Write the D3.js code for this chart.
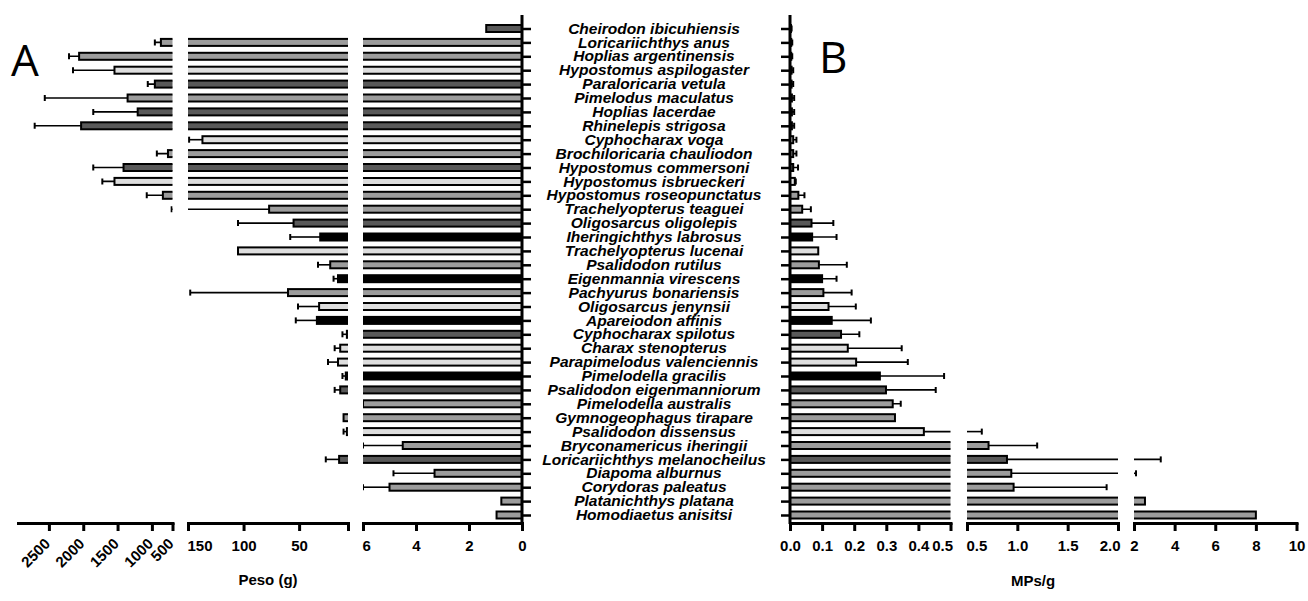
<!DOCTYPE html>
<html lang="en">
<head>
<meta charset="UTF-8">
<title>Peso y MPs/g por especie</title>
<style>
  body { margin: 0; background: #fff; }
  text { font-family: "Liberation Sans", Arial, sans-serif; }
</style>
</head>
<body>
<script src="https://cdn.jsdelivr.net/npm/d3@7/dist/d3.min.js"></script>
<script>
var width = 1308, height = 601;

// especies, de arriba hacia abajo
var species = ["Cheirodon ibicuhiensis", "Loricariichthys anus", "Hoplias argentinensis",
  "Hypostomus aspilogaster", "Paraloricaria vetula", "Pimelodus maculatus", "Hoplias lacerdae",
  "Rhinelepis strigosa", "Cyphocharax voga", "Brochiloricaria chauliodon", "Hypostomus commersoni",
  "Hypostomus isbrueckeri", "Hypostomus roseopunctatus", "Trachelyopterus teaguei",
  "Oligosarcus oligolepis", "Iheringichthys labrosus", "Trachelyopterus lucenai",
  "Psalidodon rutilus", "Eigenmannia virescens", "Pachyurus bonariensis", "Oligosarcus jenynsii",
  "Apareiodon affinis", "Cyphocharax spilotus", "Charax stenopterus", "Parapimelodus valenciennis",
  "Pimelodella gracilis", "Psalidodon eigenmanniorum", "Pimelodella australis",
  "Gymnogeophagus tirapare", "Psalidodon dissensus", "Bryconamericus iheringii",
  "Loricariichthys melanocheilus", "Diapoma alburnus", "Corydoras paleatus",
  "Platanichthys platana", "Homodiaetus anisitsi"];

// A: peso (g), media y desvio
var peso = [1.35, 869, 2060, 1545, 957, 1354, 1207, 2031, 137, 766, 1413, 1545, 840, 77, 55, 31,
  105, 22, 15, 60, 32, 34, 7, 13, 15, 8, 13, 6.0, 10, 7, 4.5, 14, 3.3, 5.0, 0.78, 0.96];
var pesoSD = [0, 88, 147, 604, 103, 1206, 647, 676, 12, 162, 441, 177, 235, 635, 50, 27,
  0, 11, 4, 88, 19, 19, 4, 5, 9, 3, 5, 0, 0, 3, 1.5, 12, 1.55, 1.0, 0, 0];

// B: MPs/g, media y desvio
var mps = [0.003, 0.004, 0.004, 0.005, 0.005, 0.006, 0.006, 0.006, 0.01, 0.01, 0.01, 0.015,
  0.026, 0.038, 0.067, 0.069, 0.088, 0.09, 0.1, 0.104, 0.12, 0.13, 0.159, 0.18, 0.206, 0.28,
  0.299, 0.32, 0.327, 0.417, 0.714, 0.897, 0.94, 0.963, 2.54, 8.0];
var mpsSD = [0.002, 0.003, 0.003, 0.005, 0.005, 0.007, 0.007, 0.007, 0.01, 0.01, 0.015, 0.003,
  0.019, 0.027, 0.068, 0.076, 0, 0.087, 0.045, 0.088, 0.085, 0.122, 0.057, 0.168, 0.161, 0.2,
  0.155, 0.025, 0, 0.23, 0.483, 2.42, 1.16, 0.924, 0, 0];

// tono de relleno de cada especie
var tono = ["oscuro", "medio", "medio", "claro", "oscuro", "medio", "oscuro", "oscuro", "claro",
  "medio", "oscuro", "claro", "medio", "medio", "oscuro", "negro", "claro", "medio", "negro",
  "medio", "claro", "negro", "oscuro", "claro", "claro", "negro", "oscuro", "medio", "medio",
  "claro", "medio", "oscuro", "medio", "medio", "medio", "medio"];

// ticks de los ejes cortados
var pesoTicks1 = [2500, 2000, 1500, 1000, 700];
var pesoLabels1 = ["2500", "2000", "1500", "1000", "500"];
var pesoTicks2 = [150, 100, 50, 6];
var pesoLabels2 = ["150", "100", "50", ""];
var pesoTicks3 = [6, 4, 2, 0];
var pesoLabels3 = ["6", "4", "2", "0"];
var mpsTicks1 = [0, 0.1, 0.2, 0.3, 0.4, 0.5];
var mpsLabels1 = ["0.0", "0.1", "0.2", "0.3", "0.4", "0.5"];
var mpsTicks2 = [0.5, 1.0, 1.5, 2.0];
var mpsLabels2 = ["0.5", "1.0", "1.5", "2.0"];
var mpsTicks3 = [2, 4, 6, 8, 10];
var mpsLabels3 = ["2", "4", "6", "8", "10"];

var colores = { negro: "#000000", oscuro: "#595959", medio: "#9c9c9c", claro: "#dedede" };

var axisY = 523;
var barH = 7;

var svg = d3.select("body").append("svg")
  .attr("width", width)
  .attr("height", height);

var y = d3.scalePoint().domain(species).range([28.5, 515]);

// segmentos de cada panel (primero/ultimo: alineacion de la etiqueta junto al corte)
var segA = [
  { x: d3.scaleLinear().domain([2950, 700]).range([18, 172.5]), ticks: pesoTicks1, labels: pesoLabels1, rot: true },
  { x: d3.scaleLinear().domain([150, 6]).range([188, 348]), ticks: pesoTicks2, labels: pesoLabels2, primero: "start" },
  { x: d3.scaleLinear().domain([6, 0]).range([363, 522]), ticks: pesoTicks3, labels: pesoLabels3, primero: "start" }
];
var segB = [
  { x: d3.scaleLinear().domain([0, 0.5]).range([790, 950.5]), ticks: mpsTicks1, labels: mpsLabels1, ultimo: "end" },
  { x: d3.scaleLinear().domain([0.5, 2]).range([967, 1118]), ticks: mpsTicks2, labels: mpsLabels2, primero: "start", ultimo: "end" },
  { x: d3.scaleLinear().domain([2, 10]).range([1134, 1296.5]), ticks: mpsTicks3, labels: mpsLabels3 }
];

function drawPanel(name, segs, vals, sds) {
  var rows = species.map(function (s, i) {
    return { name: s, v: vals[i], sd: sds[i], fill: colores[tono[i]] };
  });

  segs.forEach(function (seg, k) {
    var r = seg.x.range();
    var lo = d3.min(seg.x.domain());
    var id = "clip-" + name + k;
    svg.append("clipPath").attr("id", id)
      .append("rect")
      .attr("x", Math.min(r[0], r[1])).attr("y", 0)
      .attr("width", Math.abs(r[1] - r[0])).attr("height", axisY);

    var g = svg.append("g").attr("clip-path", "url(#" + id + ")");

    // solo lo que llega a este tramo
    var bars = rows.filter(function (d) { return d.v > lo || lo === 0; });
    g.selectAll("rect.bar").data(bars).enter().append("rect")
      .attr("class", "bar")
      .attr("x", function (d) { return Math.min(seg.x(0), seg.x(d.v)); })
      .attr("width", function (d) { return Math.abs(seg.x(d.v) - seg.x(0)); })
      .attr("y", function (d) { return y(d.name) - barH / 2; })
      .attr("height", barH)
      .style("fill", function (d) { return d.fill; })
      .style("stroke", "#000")
      .style("stroke-width", 2);

    var err = rows.filter(function (d) { return d.sd > 0 && d.v + d.sd > lo; });
    g.selectAll("line.err").data(err).enter().append("line")
      .attr("class", "err")
      .attr("x1", function (d) { return seg.x(d.v); })
      .attr("x2", function (d) { return seg.x(d.v + d.sd); })
      .attr("y1", function (d) { return y(d.name); })
      .attr("y2", function (d) { return y(d.name); })
      .style("stroke", "#000").style("stroke-width", 1.6);
    g.selectAll("line.cap").data(err).enter().append("line")
      .attr("class", "cap")
      .attr("x1", function (d) { return seg.x(d.v + d.sd); })
      .attr("x2", function (d) { return seg.x(d.v + d.sd); })
      .attr("y1", function (d) { return y(d.name) - 3; })
      .attr("y2", function (d) { return y(d.name) + 3; })
      .style("stroke", "#000").style("stroke-width", 2);

    // eje x del segmento
    var ax = svg.append("g")
      .attr("transform", "translate(0," + axisY + ")")
      .call(d3.axisBottom(seg.x)
        .tickValues(seg.ticks)
        .tickFormat(function (d, i) { return seg.labels[i]; })
        .tickSize(8).tickSizeOuter(0).tickPadding(9));
    ax.select(".domain").style("stroke-width", 3).attr("stroke-linecap", "square");
    ax.selectAll(".tick line").style("stroke-width", 3);
    var txt = ax.selectAll(".tick text")
      .style("font-size", "15px").style("font-weight", "bold")
      .style("font-family", "'Liberation Sans', Arial, sans-serif");
    var n = seg.ticks.length;
    if (seg.primero) txt.filter(function (d, i) { return i === 0; })
      .attr("text-anchor", seg.primero).attr("x", -1);
    if (seg.ultimo) txt.filter(function (d, i) { return i === n - 1; })
      .attr("text-anchor", seg.ultimo).attr("x", 2);
    if (seg.rot) {
      txt.attr("text-anchor", "end")
        .attr("y", 0).attr("dy", "0.35em")
        .attr("transform", "translate(-2,18) rotate(-45)");
    }
  });
}

drawPanel("a", segA, peso, pesoSD);
drawPanel("b", segB, mps, mpsSD);

// ejes verticales
var yA = svg.append("g").attr("transform", "translate(522,0)")
  .call(d3.axisRight(y).tickSize(9).tickFormat(""));
var yB = svg.append("g").attr("transform", "translate(790,0)")
  .call(d3.axisLeft(y).tickSize(9).tickFormat(""));
[yA, yB].forEach(function (a) {
  a.select(".domain").attr("d", "M0,15V" + (axisY + 1)).style("stroke-width", 3);
  a.selectAll(".tick line").style("stroke-width", 2.5);
});

// nombres de especies (algo ensanchados, como en el original)
svg.append("g").selectAll("text").data(species).enter().append("text")
  .attr("transform", function (d) { return "translate(654," + y(d) + ") scale(1.08,1)"; })
  .attr("dy", "0.36em")
  .attr("text-anchor", "middle")
  .style("font-size", "14.4px")
  .style("font-weight", "bold")
  .style("font-style", "italic")
  .text(function (d) { return d; });

// titulos de ejes
svg.append("text").attr("x", 268).attr("y", 585).attr("text-anchor", "middle")
  .style("font-size", "15px").style("font-weight", "bold").text("Peso (g)");
svg.append("text").attr("x", 1033).attr("y", 586).attr("text-anchor", "middle")
  .style("font-size", "15px").style("font-weight", "bold").text("MPs/g");

// letras de panel
svg.append("text").attr("x", 11).attr("y", 76)
  .style("font-size", "44px").style("font-family", "'Open Sans', sans-serif").text("A");
svg.append("text").attr("x", 819).attr("y", 73)
  .style("font-size", "44px").style("font-family", "'Open Sans', sans-serif").text("B");
</script>
</body>
</html>
